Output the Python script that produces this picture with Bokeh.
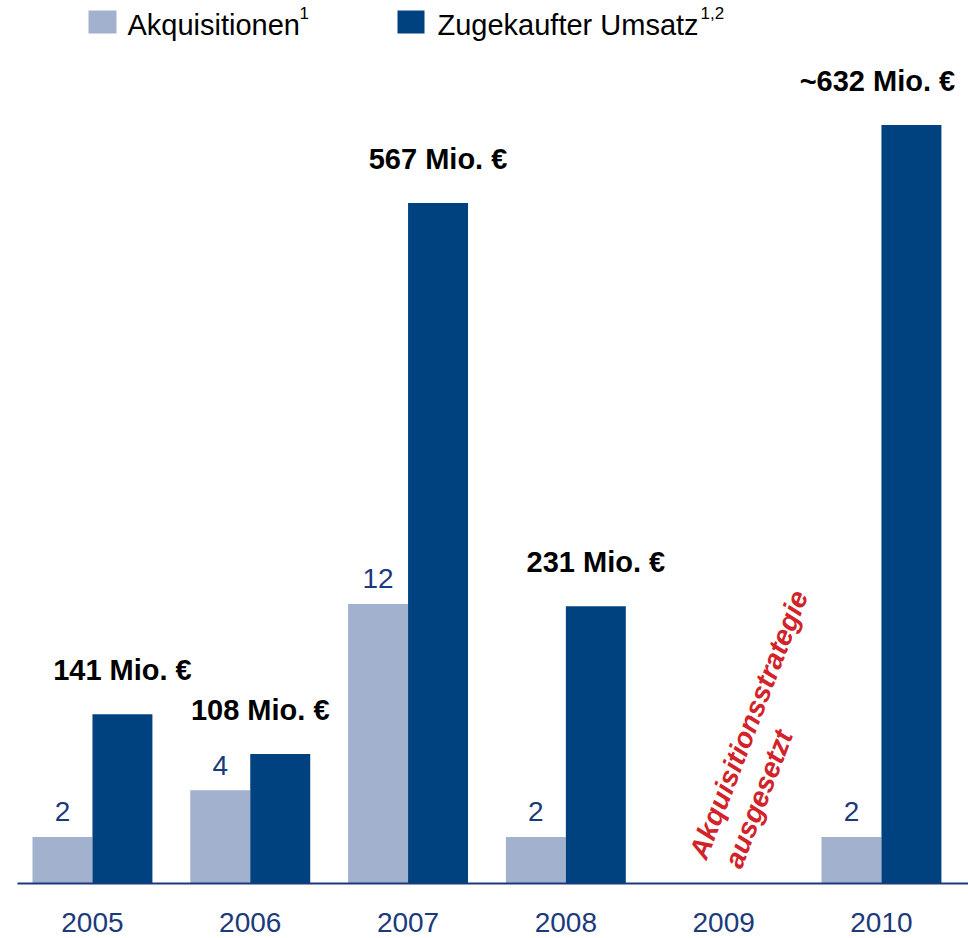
from bokeh.plotting import figure
from bokeh.models import Range1d, FixedTicker, Label, ColumnDataSource, BoxAnnotation
from bokeh.core.properties import value
from bokeh.embed import file_html
from bokeh.resources import INLINE

# ---- data ----
years = ["2005", "2006", "2007", "2008", "2009", "2010"]
akquisitionen = [2, 4, 12, 2, 0, 2]
umsatz = [141, 108, 567, 231, 0, 632]
umsatz_labels = ["141 Mio. €", "108 Mio. €", "567 Mio. €", "231 Mio. €", "", "~632 Mio. €"]
legend_labels = ["Akquisitionen", "Zugekaufter Umsatz"]
legend_notes = ["1", "1,2"]
note_year = "2009"
note_lines = ["Akquisitionsstrategie", "ausgesetzt"]

LIGHT = "#A2B1CD"
DARK = "#00427F"
NAVY = "#1B3A7B"
RED = "#D2232A"
FONT = "Liberation Sans"

# ---- layout (pixels) ----
W_PX, H_PX = 968, 938
FRAME_L, FRAME_B = 17, 883
X0, UNIT = -0.475, 157.8          # x-range start, px per group
Y_SCALE_D, Y_SCALE_C = 1.2, 23.3  # px per Mio. €, px per acquisition


def xd(px):
    return X0 + (px - FRAME_L) / UNIT


def yd(py):
    return (FRAME_B - py) / Y_SCALE_D


idx = list(range(len(years)))
W = 0.38

p = figure(width=W_PX, height=H_PX, output_backend="svg", toolbar_location=None,
           x_range=Range1d(X0, xd(W_PX)), y_range=Range1d(0, FRAME_B / Y_SCALE_D),
           min_border_left=FRAME_L, min_border_right=0, min_border_top=0,
           min_border_bottom=H_PX - FRAME_B)
p.extra_y_ranges = {"count": Range1d(0, FRAME_B / Y_SCALE_C)}
p.outline_line_color = None
p.xgrid.visible = False
p.ygrid.visible = False
p.yaxis.visible = False

xa = p.xaxis[0]
xa.ticker = FixedTicker(ticks=idx)
xa.major_label_overrides = {i: y for i, y in zip(idx, years)}
xa.major_tick_line_color = None
xa.minor_tick_line_color = None
xa.axis_line_color = NAVY
xa.axis_line_width = 2
xa.major_label_text_font = FONT
xa.major_label_text_font_size = "28px"
xa.major_label_text_color = NAVY
xa.major_label_standoff = 23

valid = [i for i in idx if umsatz[i] > 0]
src_l = ColumnDataSource(dict(x=[i - W / 2 for i in valid], top=[akquisitionen[i] for i in valid],
                              lab=[str(akquisitionen[i]) for i in valid]))
src_d = ColumnDataSource(dict(x=[i + W / 2 for i in valid], top=[umsatz[i] for i in valid],
                              lab=[umsatz_labels[i] for i in valid]))
label_dx = {0: 0, 1: -20, 2: 0, 3: 0, 5: -34}
src_d.data["dx"] = [label_dx[i] for i in valid]

p.vbar(x="x", top="top", width=W, source=src_l, color=LIGHT, line_color=None, y_range_name="count")
p.vbar(x="x", top="top", width=W, source=src_d, color=DARK, line_color=None)

p.text(x="x", y="top", text="lab", source=src_l, y_range_name="count", y_offset=-25,
       text_align="center", text_baseline="alphabetic", text_color=NAVY,
       text_font=value(FONT), text_font_size="28px")
p.text(x="x", y="top", text="lab", source=src_d, x_offset="dx", y_offset=-44,
       text_align="center", text_baseline="alphabetic", text_color="black",
       text_font=value(FONT), text_font_size="29px", text_font_style="bold")

# rotated red note in the 2009 slot
ni = years.index(note_year)
p.text(x=[ni], y=[0], text=[note_lines[0]], angle=1.204, x_offset=-26, y_offset=-26,
       text_align="left", text_baseline="alphabetic", text_color=RED,
       text_font=value(FONT), text_font_size="28px", text_font_style="bold italic")
p.text(x=[ni], y=[0], text=[note_lines[1]], angle=1.204, x_offset=9, y_offset=-17,
       text_align="left", text_baseline="alphabetic", text_color=RED,
       text_font=value(FONT), text_font_size="28px", text_font_style="bold italic")

# ---- legend (drawn by hand) ----
for (l, r, tx, sx), col, lab, note in zip([(88, 116, 127, 299), (397, 424, 437, 700)],
                                          [LIGHT, DARK], legend_labels, legend_notes):
    p.add_layout(BoxAnnotation(left=xd(l), right=xd(r), top=yd(10), bottom=yd(33),
                               fill_color=col, fill_alpha=1, line_color=None))
    p.add_layout(Label(x=xd(tx), y=yd(24), text=lab, text_font=FONT, text_font_size="29px",
                       text_baseline="alphabetic", text_color="black"))
    p.add_layout(Label(x=xd(sx), y=yd(12), text=note, text_font=FONT, text_font_size="17px",
                       text_baseline="alphabetic", text_color="black"))

open("out.html", "w").write(file_html(p, INLINE))
